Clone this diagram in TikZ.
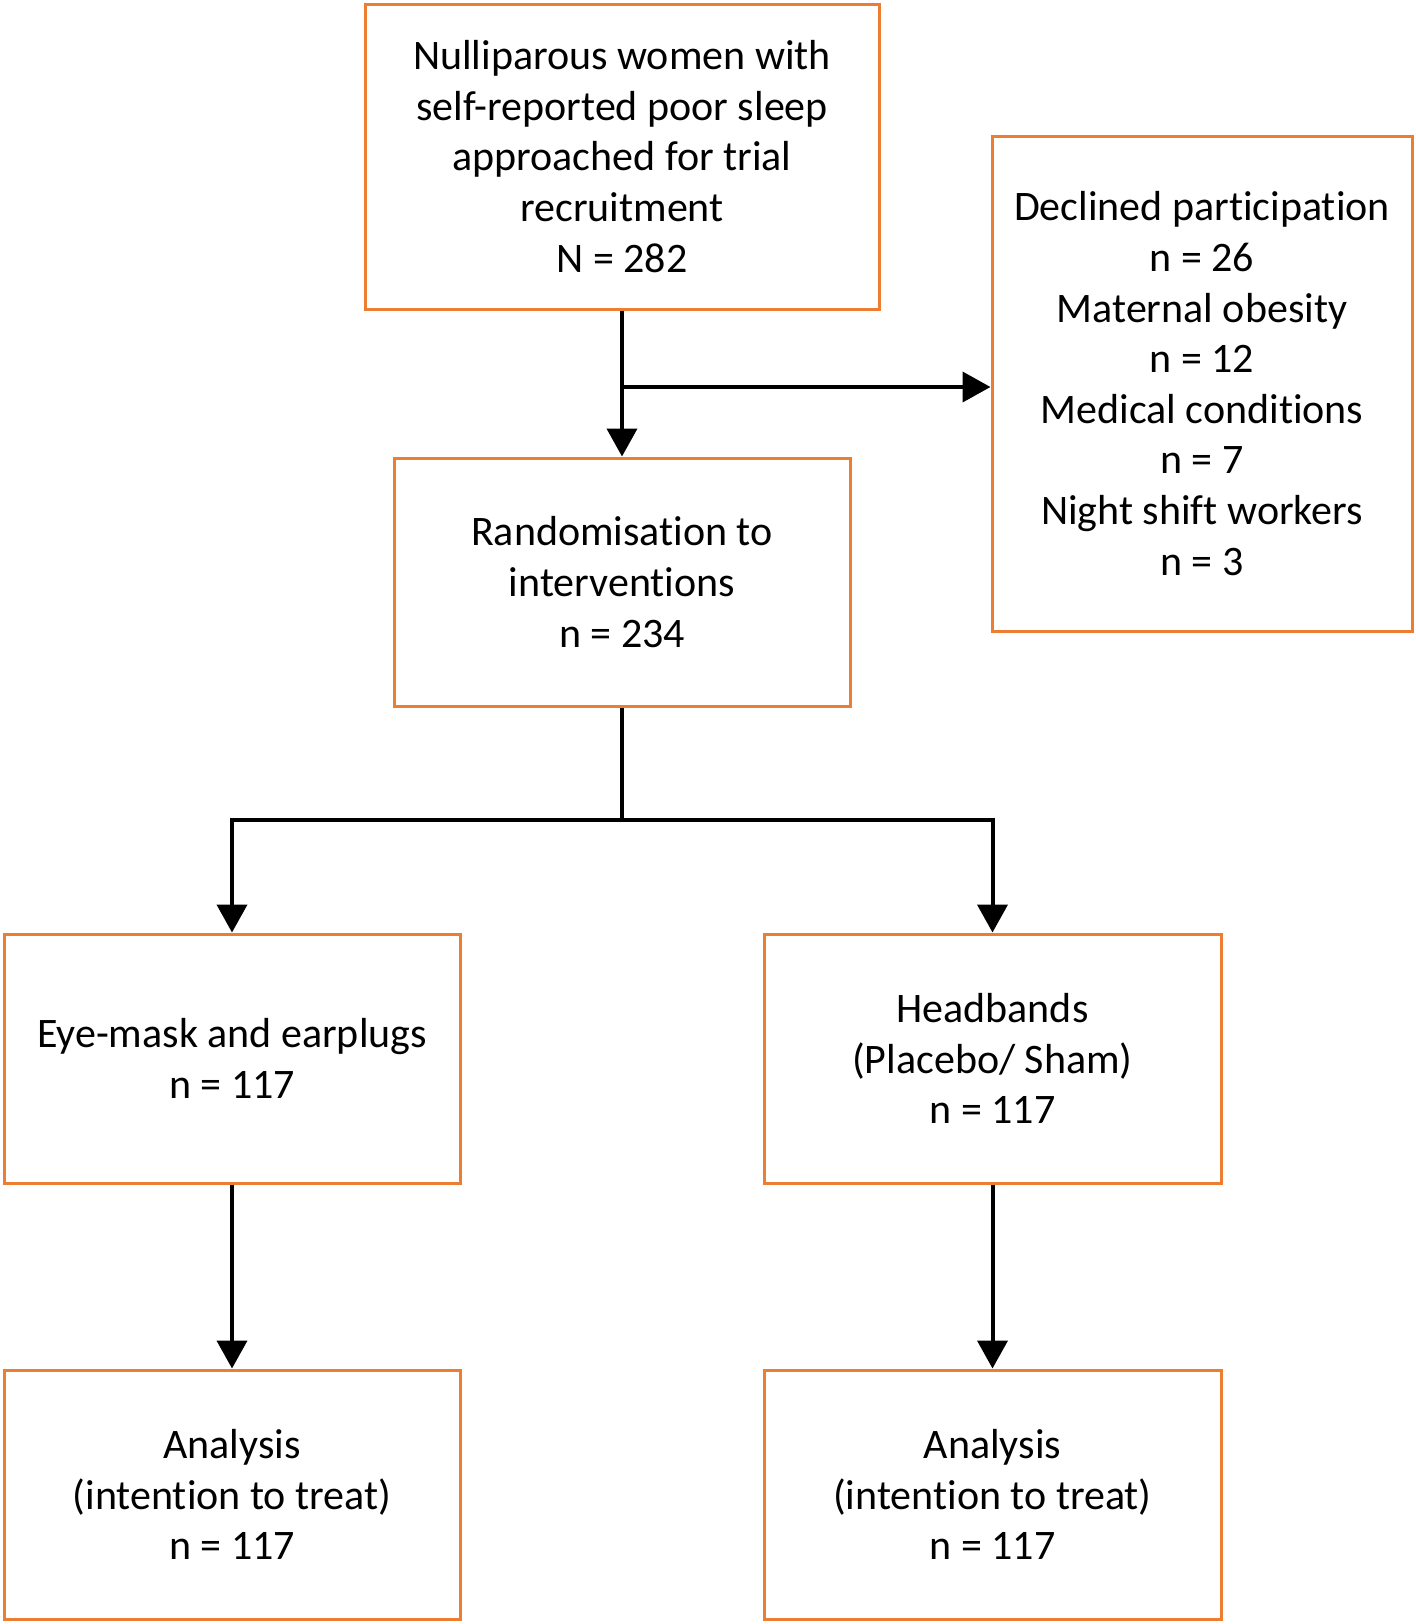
\documentclass[tikz,border=0pt]{standalone}
\usepackage{fontspec}
\setmainfont{Carlito}[Ligatures={NoCommon, NoContextual}, RawFeature={-calt}]
\usetikzlibrary{arrows.meta, calc}
\definecolor{boxorange}{RGB}{237, 125, 49}
\tikzset{
    flowbox/.style={draw=boxorange, line width=1.5pt, align=center,
        inner sep=0pt, font=\fontsize{21}{25.3}\selectfont},
    flowline/.style={line width=2pt, -{Triangle[length=14pt, width=15pt]}},
}

\begin{document}
\begin{tikzpicture}[x=0.5pt, y=-0.5pt]
    \useasboundingbox (0, 0) rectangle (1416, 1624);
    \node[flowbox, minimum width=257pt, minimum height=152.5pt] (approached)
        at (622, 156.5) {Nulliparous women with\\ self-reported poor sleep\\
        approached for trial\\ recruitment\\ N = 282};
    \node[flowbox, minimum width=210pt, minimum height=247.5pt] (declined)
        at (1202, 383.5) {Declined participation\\ n = 26\\ Maternal obesity\\
        n = 12\\ Medical conditions\\ n = 7\\ Night shift workers\\ n = 3};
    \node[flowbox, minimum width=228pt, minimum height=124pt] (random)
        at (622, 582) {Randomisation to\\ interventions\\ n = 234};
    \node[flowbox, minimum width=228pt, minimum height=124.5pt] (eyemask)
        at (232, 1058.5) {Eye-mask and earplugs\\ n = 117};
    \node[flowbox, minimum width=228.5pt, minimum height=124.5pt] (headband)
        at (992.5, 1058.5) {Headbands\\ (Placebo/ Sham)\\ n = 117};
    \node[flowbox, minimum width=228pt, minimum height=124.5pt] (analysisA)
        at (232, 1494.5) {Analysis\\ (intention to treat)\\ n = 117};
    \node[flowbox, minimum width=228.5pt, minimum height=124.5pt] (analysisB)
        at (992.5, 1494.5) {Analysis\\ (intention to treat)\\ n = 117};

    % exclusions
    \coordinate (split) at (622, 387);
    \draw[flowline] (approached) -- (random);
    \draw[flowline] (split) -- (split -| declined.west);

    % allocation
    \coordinate (branch) at (622, 820);
    \draw[line width=2pt] (random) -- (branch);
    \draw[flowline] (branch) -| (eyemask);
    \draw[flowline] (branch) -| (headband);
    \draw[flowline] (eyemask) -- (analysisA);
    \draw[flowline] (headband) -- (analysisB);
\end{tikzpicture}
\end{document}
